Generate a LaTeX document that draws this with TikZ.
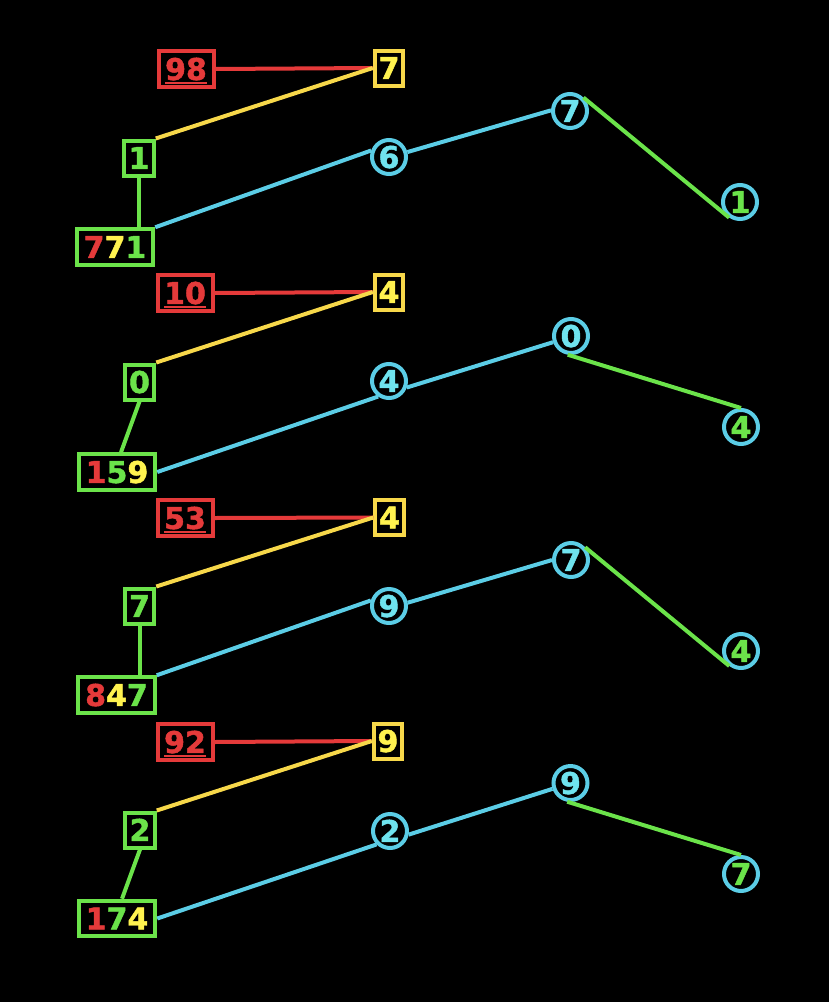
\documentclass[tikz,border=0pt]{standalone}
\usepackage{fontspec}
\setmainfont{DejaVu Sans}
\newfontfamily\digfont{DejaVuSans-Bold.ttf}[FakeBold=1.5]
\definecolor{cred}{HTML}{E53A3A}
\definecolor{cyel}{HTML}{F7D84A}
\definecolor{tyel}{HTML}{FFF24F}
\definecolor{cgrn}{HTML}{6BE34A}
\definecolor{ccya}{HTML}{5BCDE6}
\definecolor{tcya}{HTML}{6FE3EE}
\newcommand\ulnum[1]{\setbox0\hbox{#1}\rlap{\rule[-4.5pt]{\wd0}{2.2pt}}\box0}
\begin{document}
\begin{tikzpicture}[x=1pt,y=-1pt,
  every node/.style={font=\digfont\fontsize{30}{30}\selectfont, inner sep=0pt, text height=21.9pt, text depth=0pt, line width=4pt, fill=black},
  redbox/.style={draw=cred, text=cred, minimum width=55pt, minimum height=35.5pt},
  yelbox/.style={draw=cyel, text=tyel, minimum width=28.5pt, minimum height=35pt},
  grnbox/.style={draw=cgrn, text=cgrn, minimum width=29.5pt, minimum height=35pt},
  bigbox/.style={draw=cgrn, minimum width=76.5pt, minimum height=35.5pt},
  midcirc/.style={circle, draw=ccya, text=tcya, minimum size=34pt},
  endcirc/.style={circle, draw=ccya, text=cgrn, minimum size=34pt},
  redln/.style={draw=cred, line width=4pt},
  yelln/.style={draw=cyel, line width=4pt},
  grnln/.style={draw=cgrn, line width=4pt},
  cyaln/.style={draw=ccya, line width=4pt}]
\fill[black] (0,0) rectangle (829,1002);
\useasboundingbox (0,0) rectangle (829,1002);

% group 1
\node[redbox] (r1) at (186,69) {\ulnum{98}};
\node[yelbox] (y1) at (389,68) {7};
\node[grnbox] (g1) at (139,158) {1};
\node[bigbox] (b1) at (115,247) {\textcolor{cred}{7}\textcolor{tyel}{7}\textcolor{cgrn}{1}};
\node[midcirc] (ca1) at (389,157) {6};
\node[midcirc] (cb1) at (570,111) {7};
\node[endcirc] (cc1) at (740,202) {1};
\draw[redln] (r1.east) -- (y1.west);
\draw[yelln] (g1.north east) -- (y1.west);
\draw[grnln] (g1.south) -- (b1.north -| g1.south);
\draw[cyaln] (b1.north east) -- (ca1.160);
\draw[cyaln] (ca1.15) -- (cb1.178);
\draw[grnln] (cb1.45) -- (cc1.235);

% group 2
\node[redbox] (r2) at (185,293) {\ulnum{10}};
\node[yelbox] (y2) at (389,292) {4};
\node[grnbox] (g2) at (139.5,382) {0};
\node[bigbox] (b2) at (117,472) {\textcolor{cred}{1}\textcolor{cgrn}{5}\textcolor{tyel}{9}};
\node[midcirc] (ca2) at (389,381) {4};
\node[midcirc] (cb2) at (571,336) {0};
\node[endcirc] (cc2) at (741,427) {4};
\draw[redln] (r2.east) -- (y2.west);
\draw[yelln] (g2.north east) -- (y2.west);
\draw[grnln] (g2.south) -- ([xshift=4pt]b2.north);
\draw[cyaln] (b2.east) -- (ca2.235);
\draw[cyaln] (ca2.-20) -- (cb2.199);
\draw[grnln] (cb2.260) -- (cc2.north);

% group 3
\node[redbox] (r3) at (185,518) {\ulnum{53}};
\node[yelbox] (y3) at (389.5,517.5) {4};
\node[grnbox] (g3) at (139.5,606) {7};
\node[bigbox] (b3) at (116.5,695) {\textcolor{cred}{8}\textcolor{tyel}{4}\textcolor{cgrn}{7}};
\node[midcirc] (ca3) at (389,606) {9};
\node[midcirc] (cb3) at (571,560) {7};
\node[endcirc] (cc3) at (741,651) {4};
\draw[redln] (r3.east) -- (y3.west);
\draw[yelln] (g3.north east) -- (y3.west);
\draw[grnln] (g3.south) -- (b3.north -| g3.south);
\draw[cyaln] (b3.north east) -- (ca3.163);
\draw[cyaln] (ca3.10) -- (cb3.180);
\draw[grnln] (cb3.42) -- (cc3.232);

% group 4
\node[redbox] (r4) at (185,742) {\ulnum{92}};
\node[yelbox] (y4) at (388,741) {9};
\node[grnbox] (g4) at (140,830) {2};
\node[bigbox] (b4) at (117,918.5) {\textcolor{cred}{1}\textcolor{cgrn}{7}\textcolor{tyel}{4}};
\node[midcirc] (ca4) at (390,831) {2};
\node[midcirc] (cb4) at (570.5,783) {9};
\node[endcirc] (cc4) at (741,874) {7};
\draw[redln] (r4.east) -- (y4.west);
\draw[yelln] (g4.north east) -- (y4.west);
\draw[grnln] (g4.south) -- ([xshift=5pt]b4.north);
\draw[cyaln] (b4.east) -- (ca4.225);
\draw[cyaln] (ca4.-11) -- (cb4.198);
\draw[grnln] (cb4.260) -- (cc4.north);
\end{tikzpicture}
\end{document}
